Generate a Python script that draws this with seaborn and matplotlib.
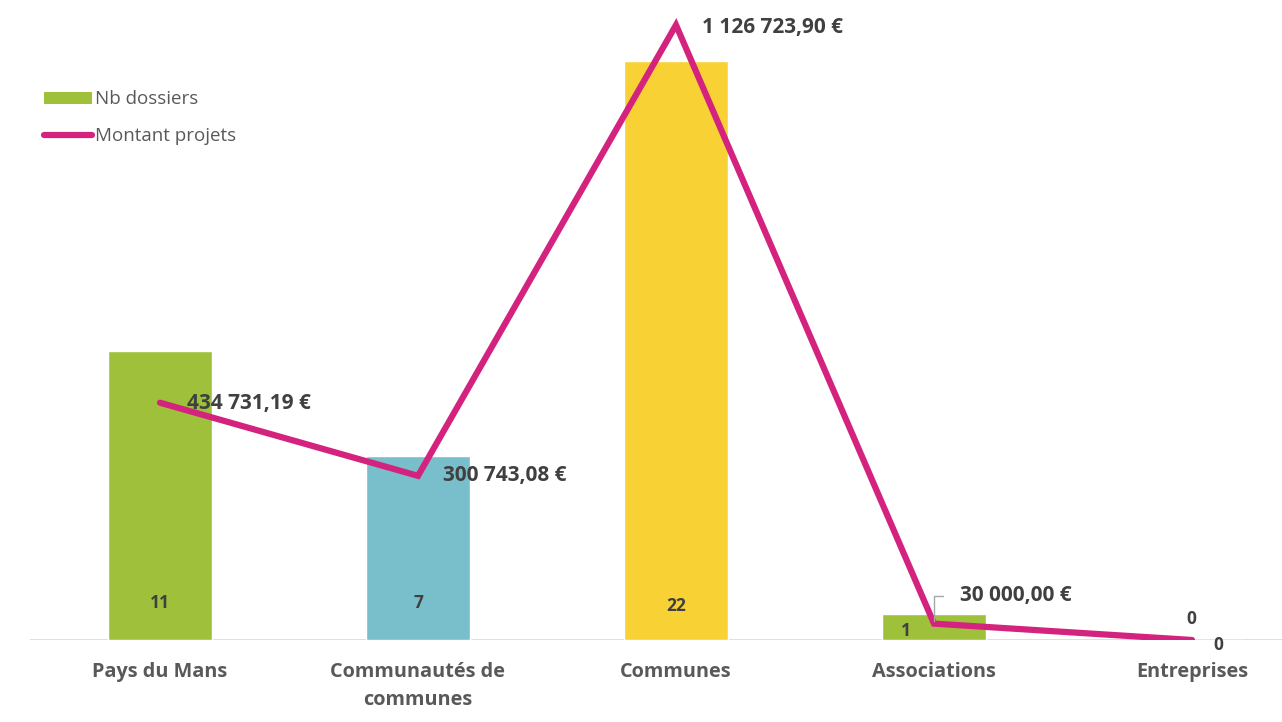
import matplotlib
matplotlib.use("Agg")
import matplotlib.pyplot as plt
import seaborn as sns
import pandas as pd
from matplotlib.patches import Patch
from matplotlib.lines import Line2D

categories = ["Pays du Mans", "Communautés de\ncommunes", "Communes", "Associations", "Entreprises"]
nb_dossiers = [11, 7, 22, 1, 0]
montant = [434731.19, 300743.08, 1126723.90, 30000.00, 0.0]
montant_labels = ["434 731,19 €", "300 743,08 €", "1 126 723,90 €", "30 000,00 €", "0"]
bar_colors = ["#9FC03B", "#79BFCB", "#F8D235", "#9FC03B", "#9FC03B"]
line_color = "#D4237E"
text_color = "#404040"
label_color = "#595959"

sns.set_theme(style="white")
plt.rcParams["font.family"] = ["Open Sans", "DejaVu Sans"]

df = pd.DataFrame({"cat": categories, "nb": nb_dossiers, "montant": montant})
df["x"] = range(len(df))

W, H = 1282, 722
fig = plt.figure(figsize=(W / 100, H / 100), dpi=100)
ax = fig.add_axes([30 / W, (H - 640) / H, (W - 30) / W, 625 / H])

sns.barplot(data=df, x="cat", y="nb", hue="cat", palette=bar_colors, legend=False,
            width=0.40, ax=ax, saturation=1)
ax.set_xlim(-130 / 258, (W - 30 - 130) / 258)
ax.set_ylim(0, 22 * 625 / 579)

ax2 = ax.twinx()
sns.lineplot(data=df, x="x", y="montant", sort=False, color=line_color, linewidth=4.5,
             ax=ax2, solid_joinstyle="miter")
ax2.set_ylim(0, 1126723.90 * 625 / 615)
ax2.set_xlim(ax.get_xlim())

for a in (ax, ax2):
    for s in a.spines.values():
        s.set_visible(False)
    a.set_ylabel("")
    a.set_yticks([])
ax.set_xlabel("")
ax2.set_xlabel("")
ax2.set_xticks([])
ax.axhline(0, color="#D9D9D9", linewidth=1.2, zorder=0)

ax.tick_params(axis="x", length=0, pad=16)
ax.set_xticks(range(len(categories)))
ax.set_xticklabels(categories, fontsize=14.3, fontweight="bold", color=label_color,
                   linespacing=1.55)

# bar labels
bar_offsets = [(0, 37), (0, 37), (0, 34), (-28, 9), (26, -5)]
for i, (v, off) in enumerate(zip(nb_dossiers, bar_offsets)):
    ax.annotate(str(v), xy=(i, 0), xytext=off, textcoords="offset pixels",
                ha="center", va="center", fontsize=12.5, fontweight="bold", color=text_color)

# line labels
line_offsets = [(27, -1), (25, 0), (26, -2), (26, 28), (-1, 21)]
line_ha = ["left", "left", "left", "left", "center"]
for i, (v, lab, off, ha) in enumerate(zip(montant, montant_labels, line_offsets, line_ha)):
    ax2.annotate(lab, xy=(i, v), xytext=off, textcoords="offset pixels",
                 ha=ha, va="center", fontsize=15 if ha == "left" else 12.5,
                 fontweight="bold", color=text_color)

# leader line for 30 000
ax2.annotate("", xy=(3, montant[3]), xytext=(12, 28), textcoords="offset pixels",
             arrowprops=dict(arrowstyle="-", color="#A6A6A6", lw=1,
                             connectionstyle="angle,angleA=0,angleB=90,rad=0"))

handles = [Patch(facecolor=bar_colors[0], edgecolor="none"),
           Line2D([0], [0], color=line_color, linewidth=4.5)]
leg = fig.legend(handles, ["Nb dossiers", "Montant projets"], loc="upper left",
                 bbox_to_anchor=(36 / W, 1 - 83 / H), frameon=False, fontsize=13.5,
                 handlelength=2.6, handleheight=0.6, handletextpad=0.15, labelspacing=1.0,
                 borderaxespad=0, labelcolor=label_color)

fig.savefig("out.png", dpi=100, facecolor="white")
